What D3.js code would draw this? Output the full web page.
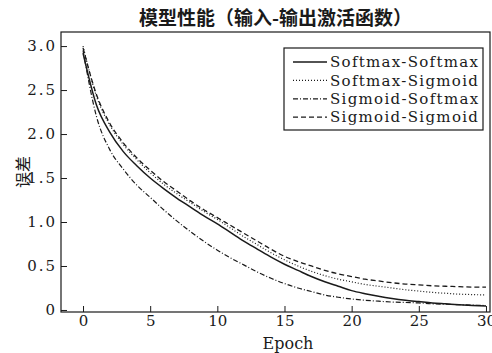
<!DOCTYPE html>
<html>
<head>
<meta charset="utf-8">
<script src="https://cdn.jsdelivr.net/npm/d3@7"></script>
<style>
    body { margin: 0; background: #fff; }
</style>
</head>
<body>
<svg id="chart"></svg>
<script>

// DATA
let epochs = d3.range(0, 31)
let seriesNames = ['Softmax-Softmax', 'Softmax-Sigmoid', 'Sigmoid-Softmax', 'Sigmoid-Sigmoid']

let softmaxSoftmax = [2.92, 2.33, 2.02, 1.80, 1.64, 1.50, 1.38, 1.27, 1.17, 1.07, 0.98, 0.88, 0.78, 0.69, 0.60, 0.52, 0.45, 0.38, 0.32, 0.27, 0.22, 0.185, 0.155, 0.13, 0.11, 0.095, 0.08, 0.07, 0.06, 0.052, 0.045]
let softmaxSigmoid = [3.00, 2.43, 2.10, 1.88, 1.71, 1.56, 1.43, 1.32, 1.22, 1.12, 1.03, 0.93, 0.83, 0.74, 0.65, 0.57, 0.50, 0.44, 0.39, 0.35, 0.32, 0.29, 0.27, 0.25, 0.23, 0.215, 0.20, 0.19, 0.18, 0.175, 0.17]
let sigmoidSoftmax = [2.95, 2.20, 1.82, 1.60, 1.42, 1.28, 1.14, 1.01, 0.89, 0.78, 0.68, 0.59, 0.51, 0.43, 0.36, 0.30, 0.25, 0.21, 0.17, 0.145, 0.125, 0.11, 0.10, 0.09, 0.085, 0.08, 0.07, 0.065, 0.06, 0.055, 0.05]
let sigmoidSigmoid = [2.98, 2.45, 2.12, 1.90, 1.73, 1.59, 1.46, 1.35, 1.24, 1.14, 1.05, 0.96, 0.87, 0.78, 0.69, 0.61, 0.55, 0.50, 0.45, 0.41, 0.38, 0.35, 0.33, 0.31, 0.295, 0.285, 0.275, 0.27, 0.265, 0.26, 0.26]

let xTicks = [0, 5, 10, 15, 20, 25, 30]
let yTicks = [0, 0.5, 1.0, 1.5, 2.0, 2.5, 3.0]
let yTickLabels = ['0', '0.5', '1.0', '1.5', '2.0', '2.5', '3.0']

let titleText = '模型性能（输入-输出激活函数）'
let xLabel = 'Epoch'
let yLabel = '误差'

// STYLES PER SERIES
let dashes = ['none', '1,2', '5,2,1,2', '5,3']
let widths = [1.5, 1.2, 1.2, 1.3]

let allSeries = [softmaxSoftmax, softmaxSigmoid, sigmoidSoftmax, sigmoidSigmoid]

// SIZES
let svgWidth = 492
let svgHeight = 353
let margins = {top: 32, bottom: 41, left: 61, right: 2}
let width = svgWidth - margins.left - margins.right
let height = svgHeight - margins.top - margins.bottom

let serif = '"DejaVu Serif", "Liberation Serif", serif'
let cjk = '"Noto Sans CJK SC", sans-serif'
let ink = '#1a1a1a'

let chartContainer = d3
    .select('#chart')
    .attr('width', svgWidth)
    .attr('height', svgHeight)

let chart = chartContainer
    .append('g')
    .attr('transform', `translate(${margins.left},${margins.top})`)

// SCALES
let x = d3.scaleLinear()
    .domain([-1.64, 30.3])
    .range([0, width])
let y = d3.scaleLinear()
    .domain([-0.023, 3.16])
    .range([height, 0])

// FRAME
chart
    .append('rect')
    .attr('width', width)
    .attr('height', height)
    .attr('fill', 'none')
    .attr('stroke', ink)
    .attr('stroke-width', 1.2)

// X AXIS
let xAxis = chart
    .append('g')
    .attr('transform', `translate(0, ${height})`)
    .call(d3.axisBottom(x).tickValues(xTicks).tickSize(-6).tickPadding(3).tickSizeOuter(0))
xAxis.select('.domain').remove()
xAxis.selectAll('line').attr('stroke', ink)
xAxis.selectAll('text')
    .attr('fill', ink)
    .attr('font-family', serif)
    .attr('font-size', 15)

// Y AXIS
let yAxis = chart
    .append('g')
    .call(d3.axisLeft(y)
        .tickValues(yTicks)
        .tickFormat((d, i) => yTickLabels[i])
        .tickSize(-6)
        .tickPadding(4)
        .tickSizeOuter(0))
yAxis.select('.domain').remove()
yAxis.selectAll('line').attr('stroke', ink)
yAxis.selectAll('text')
    .attr('fill', ink)
    .attr('font-family', serif)
    .attr('font-size', 15)
    .attr('letter-spacing', 2)

// LINES
let line = d3.line()
    .x((d, i) => x(epochs[i]))
    .y(d => y(d))
    .curve(d3.curveMonotoneX)

chart
    .append('g')
    .selectAll('path')
    .data(allSeries)
    .join('path')
        .attr('d', d => line(d))
        .attr('fill', 'none')
        .attr('stroke', ink)
        .attr('stroke-width', (d, i) => widths[i])
        .attr('stroke-dasharray', (d, i) => dashes[i])

// TITLE
chartContainer
    .append('text')
    .attr('x', margins.left + width / 2)
    .attr('y', 25)
    .attr('text-anchor', 'middle')
    .attr('fill', ink)
    .attr('font-family', cjk)
    .attr('font-size', 19)
    .attr('font-weight', 600)
    .text(titleText)

// X LABEL
chartContainer
    .append('text')
    .attr('x', 288)
    .attr('y', 349)
    .attr('text-anchor', 'middle')
    .attr('fill', ink)
    .attr('font-family', serif)
    .attr('font-size', 16)
    .text(xLabel)

// Y LABEL
chartContainer
    .append('text')
    .attr('transform', 'translate(29, 172) rotate(-90)')
    .attr('text-anchor', 'middle')
    .attr('fill', ink)
    .attr('font-family', cjk)
    .attr('font-size', 16)
    .text(yLabel)

// LEGEND
let legend = chartContainer
    .append('g')
    .attr('transform', 'translate(284, 48)')

legend
    .append('rect')
    .attr('width', 199)
    .attr('height', 82)
    .attr('fill', '#fff')
    .attr('stroke', ink)
    .attr('stroke-width', 1.2)

let rows = legend
    .selectAll('g.row')
    .data(seriesNames)
    .join('g')
        .classed('row', true)
        .attr('transform', (d, i) => `translate(0, ${14 + i * 18.4})`)

rows.append('line')
    .attr('x1', 9)
    .attr('x2', 43)
    .attr('stroke', ink)
    .attr('stroke-width', (d, i) => widths[i])
    .attr('stroke-dasharray', (d, i) => dashes[i])

rows.append('text')
    .attr('x', 46)
    .attr('dy', '0.35em')
    .attr('fill', ink)
    .attr('font-family', serif)
    .attr('font-size', 15)
    .attr('letter-spacing', 1.3)
    .text(d => d)

</script>
</body>
</html>
